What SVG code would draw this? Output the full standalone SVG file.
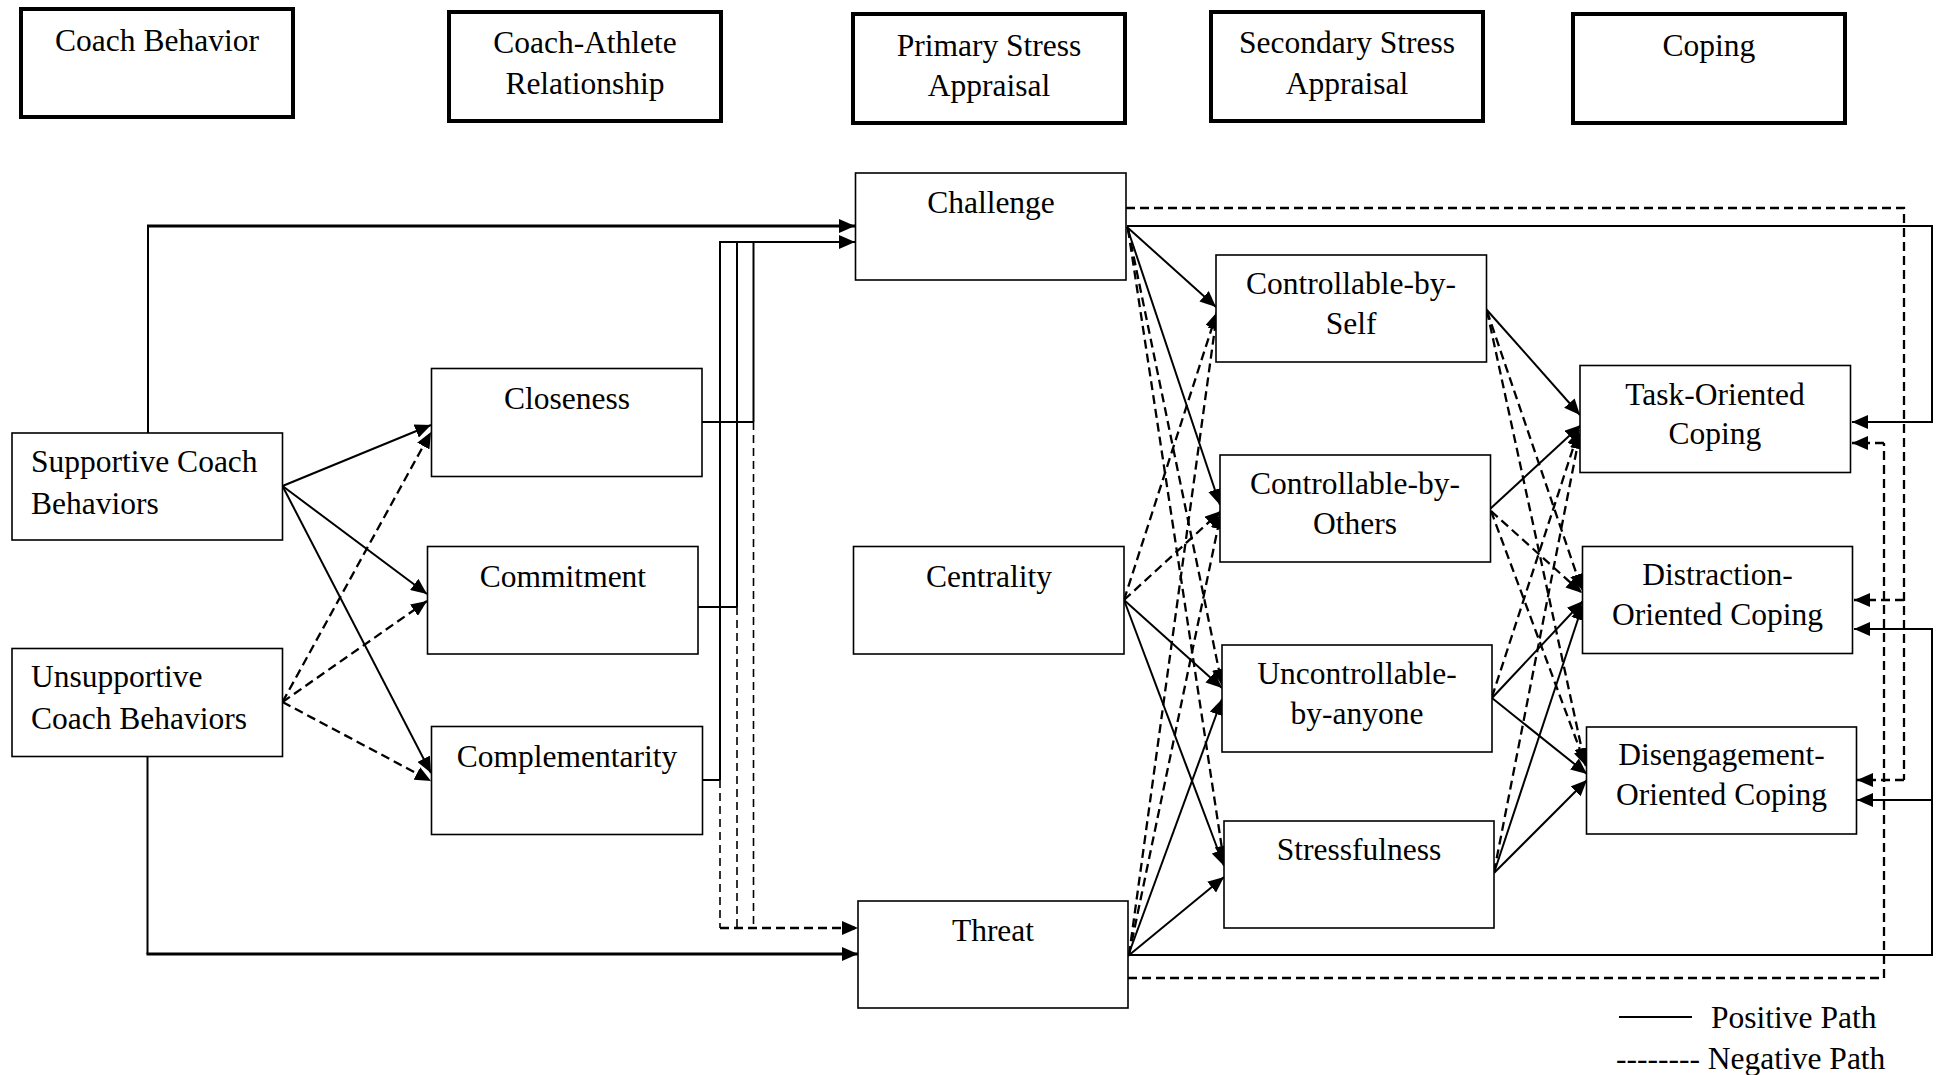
<svg xmlns="http://www.w3.org/2000/svg" width="1936" height="1075" viewBox="0 0 1936 1075">
<style>
.hdr{fill:#fff;stroke:#000;stroke-width:4}
.box{fill:#fff;stroke:#000;stroke-width:1.6}
text{font-family:"Liberation Serif","Times New Roman",serif;font-size:31.5px;fill:#000}
.c{text-anchor:middle}
.s{fill:none;stroke:#000;stroke-width:2}
.sb{fill:none;stroke:#000;stroke-width:3}
.d{fill:none;stroke:#000;stroke-width:2.3;stroke-dasharray:9 5}
.dt{fill:none;stroke:#000;stroke-width:1.6;stroke-dasharray:8 5}
.a{marker-end:url(#ah)}
</style>
<defs>
<marker id="ah" markerUnits="userSpaceOnUse" markerWidth="16" markerHeight="14" viewBox="0 0 16 14" refX="16" refY="7" orient="auto">
<path d="M0,0 L16,7 L0,14 z" fill="#000"/>
</marker>
</defs>
<rect width="1936" height="1075" fill="#fff"/>

<g id="hdr-coach-behavior"><rect class="hdr" x="21" y="9" width="272" height="108"/><text class="c" x="157" y="51">Coach Behavior</text></g>
<g id="hdr-relationship"><rect class="hdr" x="449" y="12" width="272" height="109"/><text class="c" x="585" y="53">Coach-Athlete</text><text class="c" x="585" y="94">Relationship</text></g>
<g id="hdr-primary"><rect class="hdr" x="853" y="14" width="272" height="109"/><text class="c" x="989" y="56">Primary Stress</text><text class="c" x="989" y="96">Appraisal</text></g>
<g id="hdr-secondary"><rect class="hdr" x="1211" y="12" width="272" height="109"/><text class="c" x="1347" y="53">Secondary Stress</text><text class="c" x="1347" y="94">Appraisal</text></g>
<g id="hdr-coping"><rect class="hdr" x="1573" y="14" width="272" height="109"/><text class="c" x="1709" y="56">Coping</text></g>

<g id="connectors">
<polyline class="s" points="148,433 148,226"/>
<line class="sb a" x1="147" y1="226" x2="855" y2="226"/>
<polyline class="s" points="147.5,756 147.5,954"/>
<line class="sb a" x1="146.5" y1="954" x2="858" y2="954"/>
<line class="s a" x1="282.5" y1="486" x2="431" y2="425"/>
<line class="s a" x1="282.5" y1="486" x2="427" y2="594"/>
<line class="s a" x1="282.5" y1="486" x2="431" y2="773"/>
<line class="d a" x1="282.5" y1="702" x2="431" y2="432"/>
<line class="d a" x1="282.5" y1="702" x2="427" y2="601"/>
<line class="d a" x1="282.5" y1="702" x2="431" y2="781"/>
<line class="s" x1="702" y1="422" x2="753.5" y2="422"/>
<line class="s" x1="698" y1="607" x2="737" y2="607"/>
<line class="s" x1="702.5" y1="780" x2="720" y2="780"/>
<line class="s" x1="753.5" y1="422" x2="753.5" y2="242"/>
<line class="s" x1="737" y1="607" x2="737" y2="242"/>
<line class="s" x1="720" y1="780" x2="720" y2="241"/>
<line class="s a" x1="719" y1="242" x2="855" y2="242"/>
<line class="dt" x1="753.5" y1="422" x2="753.5" y2="928"/>
<line class="dt" x1="737" y1="607" x2="737" y2="928"/>
<line class="dt" x1="720" y1="780" x2="720" y2="928"/>
<line class="d a" x1="720" y1="928" x2="858" y2="928"/>
<line class="s a" x1="1127" y1="227" x2="1216" y2="307"/>
<line class="s a" x1="1127" y1="227" x2="1220" y2="505"/>
<line class="d a" x1="1128" y1="229" x2="1222" y2="685"/>
<line class="d a" x1="1128" y1="229" x2="1224" y2="862"/>
<line class="d a" x1="1124" y1="600" x2="1217" y2="312"/>
<line class="d a" x1="1124" y1="600" x2="1221" y2="511"/>
<line class="s a" x1="1124" y1="600" x2="1222" y2="688"/>
<line class="s a" x1="1124" y1="600" x2="1224" y2="866"/>
<line class="d a" x1="1129" y1="955" x2="1217" y2="313"/>
<line class="d a" x1="1129" y1="955" x2="1221" y2="513"/>
<line class="s a" x1="1128" y1="956" x2="1222" y2="699"/>
<line class="s a" x1="1128" y1="956" x2="1224" y2="877"/>
<line class="s a" x1="1486" y1="309" x2="1580" y2="415"/>
<line class="d a" x1="1487" y1="311" x2="1582" y2="590"/>
<line class="d a" x1="1487" y1="311" x2="1585" y2="764"/>
<line class="s a" x1="1490" y1="509" x2="1581" y2="425"/>
<line class="d a" x1="1491" y1="511" x2="1582" y2="593"/>
<line class="d a" x1="1491" y1="511" x2="1586" y2="766"/>
<line class="d a" x1="1492" y1="697" x2="1579" y2="430"/>
<line class="s a" x1="1492" y1="698" x2="1583" y2="601"/>
<line class="s a" x1="1492" y1="698" x2="1587" y2="774"/>
<line class="d a" x1="1494" y1="872" x2="1580" y2="433"/>
<line class="s a" x1="1494" y1="873" x2="1583" y2="604"/>
<line class="s a" x1="1494" y1="873" x2="1587" y2="780"/>
<polyline class="s" points="1127,226 1932,226 1932,422"/>
<line class="s a" x1="1933" y1="422" x2="1852" y2="422"/>
<polyline class="d" points="1126,208 1904,208 1904,780"/>
<line class="d a" x1="1904" y1="780" x2="1857" y2="780"/>
<line class="d a" x1="1904" y1="600" x2="1854" y2="600"/>
<polyline class="s" points="1128,955 1932,955 1932,629"/>
<line class="s a" x1="1933" y1="629" x2="1854" y2="629"/>
<line class="s a" x1="1932" y1="800" x2="1857" y2="800"/>
<polyline class="d" points="1128,978 1884,978 1884,443"/>
<line class="d a" x1="1884" y1="443" x2="1852" y2="443"/>
</g>

<g id="supportive"><rect class="box" x="12" y="433" width="270.5" height="107"/><text x="31" y="472">Supportive Coach</text><text x="31" y="514">Behaviors</text></g>
<g id="unsupportive"><rect class="box" x="12" y="648.5" width="270.5" height="108"/><text x="31" y="687">Unsupportive</text><text x="31" y="729">Coach Behaviors</text></g>
<g id="closeness"><rect class="box" x="431.5" y="368.5" width="270.5" height="108"/><text class="c" x="567" y="408.5">Closeness</text></g>
<g id="commitment"><rect class="box" x="427.5" y="546.5" width="270.5" height="107.5"/><text class="c" x="563" y="586.5">Commitment</text></g>
<g id="complementarity"><rect class="box" x="431.5" y="726.5" width="271" height="108"/><text class="c" x="567" y="766.5">Complementarity</text></g>
<g id="challenge"><rect class="box" x="855.5" y="173" width="270.5" height="107"/><text class="c" x="991" y="213">Challenge</text></g>
<g id="centrality"><rect class="box" x="853.5" y="546.5" width="270.5" height="107.5"/><text class="c" x="989" y="586.5">Centrality</text></g>
<g id="threat"><rect class="box" x="858" y="901" width="270" height="107"/><text class="c" x="993" y="941">Threat</text></g>
<g id="ctrl-self"><rect class="box" x="1216" y="255" width="270.5" height="107"/><text class="c" x="1351" y="293.5">Controllable-by-</text><text class="c" x="1351" y="333.5">Self</text></g>
<g id="ctrl-others"><rect class="box" x="1220" y="455" width="270.5" height="107"/><text class="c" x="1355" y="493.5">Controllable-by-</text><text class="c" x="1355" y="533.5">Others</text></g>
<g id="uncontrollable"><rect class="box" x="1222" y="645" width="270" height="107"/><text class="c" x="1357" y="683.5">Uncontrollable-</text><text class="c" x="1357" y="723.5">by-anyone</text></g>
<g id="stressfulness"><rect class="box" x="1224" y="821" width="270" height="107"/><text class="c" x="1359" y="860">Stressfulness</text></g>
<g id="task-coping"><rect class="box" x="1580" y="365.5" width="270.5" height="107"/><text class="c" x="1715" y="405">Task-Oriented</text><text class="c" x="1715" y="444">Coping</text></g>
<g id="distraction-coping"><rect class="box" x="1582.5" y="546.5" width="270" height="107"/><text class="c" x="1717.5" y="585">Distraction-</text><text class="c" x="1717.5" y="625">Oriented Coping</text></g>
<g id="disengagement-coping"><rect class="box" x="1586.5" y="727" width="270" height="107"/><text class="c" x="1721.5" y="765">Disengagement-</text><text class="c" x="1721.5" y="805">Oriented Coping</text></g>

<g id="legend">
<line class="s" x1="1619" y1="1017" x2="1692" y2="1017"/>
<text x="1711" y="1028">Positive Path</text>
<text x="1616" y="1069">-------- Negative Path</text>
</g>
</svg>
